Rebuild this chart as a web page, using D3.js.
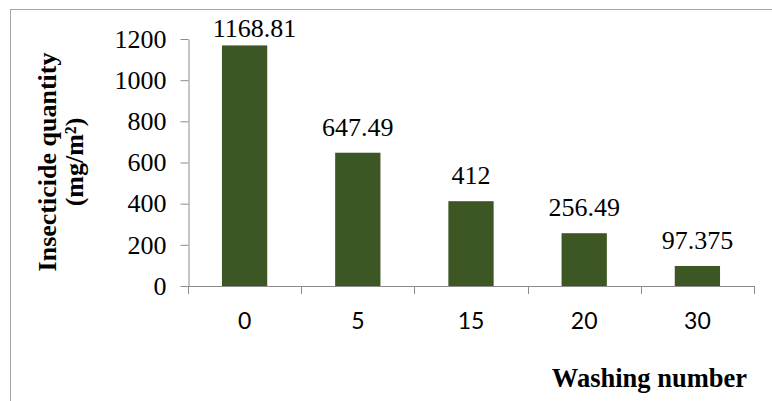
<!DOCTYPE html>
<html>
<head>
<meta charset="utf-8">
<script src="https://cdn.jsdelivr.net/npm/d3@7"></script>
<style>
  html, body { margin: 0; padding: 0; background: #fff; }
  svg { display: block; }
  .serif { font-family: "Liberation Serif", "Times New Roman", Tinos, "DejaVu Serif", serif; }
  .sans { font-family: Lato, "Open Sans", sans-serif; }
</style>
</head>
<body>
<svg id="chart" width="772" height="401"></svg>
<script>
// Washing number categories and residual insecticide per category
const categories = ["0", "5", "15", "20", "30"];
const values = [1168.81, 647.49, 412, 256.49, 97.375];
const valueLabels = ["1168.81", "647.49", "412", "256.49", "97.375"];
const yTicks = [0, 200, 400, 600, 800, 1000, 1200];
const yTitleLines = ["Insecticide quantity", "(mg/m²)"];
const xTitle = "Washing number";

const svg = d3.select("#chart");
const axisColor = "#8c8c8c";

// chart area frame (runs past the right and bottom edges)
svg.append("rect")
  .attr("x", 10.5).attr("y", 9.5)
  .attr("width", 800).attr("height", 420)
  .attr("fill", "none").attr("stroke", "#a6a6a6").attr("stroke-width", 1);

const plot = { left: 188, right: 754, top: 39, bottom: 286 };

const x = d3.scaleBand()
  .domain(categories)
  .range([plot.left, plot.right])
  .paddingInner(0.6)
  .paddingOuter(0.3);

const y = d3.scaleLinear()
  .domain([0, 1200])
  .range([plot.bottom, plot.top]);

// bars
svg.append("g").selectAll("rect")
  .data(values)
  .join("rect")
  .attr("x", (d, i) => x(categories[i]))
  .attr("y", d => y(d))
  .attr("width", x.bandwidth())
  .attr("height", d => y(0) - y(d))
  .attr("fill", "#3c5724");

// y axis
const yAxis = svg.append("g")
  .attr("transform", `translate(${plot.left + 0.5},0)`)
  .call(d3.axisLeft(y).tickValues(yTicks).tickFormat(d3.format("d"))
    .tickSize(8).tickSizeOuter(0).tickPadding(14));
yAxis.attr("font-family", null).attr("font-size", null);
yAxis.select(".domain").attr("stroke", axisColor);
yAxis.selectAll(".tick line").attr("stroke", axisColor);
yAxis.selectAll(".tick text")
  .attr("class", "serif").attr("font-size", 26).attr("fill", "#000");

// x axis: baseline plus ticks at category boundaries
const step = x.step();
const boundaries = d3.range(categories.length + 1).map(i => plot.left + i * step);
const xg = svg.append("g");
xg.append("line")
  .attr("x1", plot.left).attr("x2", plot.right)
  .attr("y1", y(0) + 0.5).attr("y2", y(0) + 0.5)
  .attr("stroke", axisColor);
xg.selectAll("line.tick")
  .data(boundaries)
  .join("line")
  .attr("class", "tick")
  .attr("x1", d => Math.round(d) + 0.5).attr("x2", d => Math.round(d) + 0.5)
  .attr("y1", y(0)).attr("y2", y(0) + 8)
  .attr("stroke", axisColor);
xg.selectAll("text")
  .data(categories)
  .join("text")
  .attr("class", "sans")
  .attr("x", d => x(d) + x.bandwidth() / 2)
  .attr("y", 329)
  .attr("text-anchor", "middle")
  .attr("font-size", 23).attr("fill", "#000")
  .text(d => d);

// value labels above bars; a label that would leave the chart area is
// pushed down and nudged sideways
const labelTop = 37;
svg.append("g").selectAll("text")
  .data(values)
  .join("text")
  .attr("class", "serif")
  .attr("x", (d, i) => x(categories[i]) + x.bandwidth() / 2 + (y(d) - 17 < labelTop ? 10 : 0))
  .attr("y", d => Math.max(y(d) - 17, labelTop))
  .attr("text-anchor", "middle")
  .attr("font-size", 26).attr("fill", "#000")
  .text((d, i) => valueLabels[i]);

// axis titles
const yTitle = svg.append("text")
  .attr("class", "serif")
  .attr("transform", "translate(0,162) rotate(-90)")
  .attr("text-anchor", "middle")
  .attr("font-size", 26).attr("font-weight", "bold");
yTitle.selectAll("tspan")
  .data(yTitleLines)
  .join("tspan")
  .attr("x", 0)
  .attr("y", (d, i) => 56 + i * 27)
  .text(d => d);

svg.append("text")
  .attr("class", "serif")
  .attr("x", 747).attr("y", 387)
  .attr("text-anchor", "end")
  .attr("font-size", 26.5).attr("font-weight", "bold")
  .text(xTitle);
</script>
</body>
</html>
